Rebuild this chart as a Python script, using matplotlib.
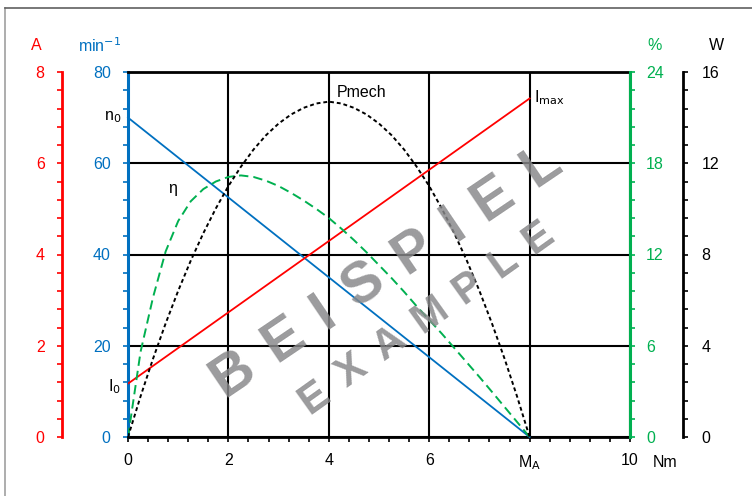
import math
import matplotlib
matplotlib.use("Agg")
import matplotlib.pyplot as plt
from matplotlib.lines import Line2D
from matplotlib.ticker import MultipleLocator, FixedLocator, FixedFormatter
from matplotlib.textpath import TextPath
from matplotlib.font_manager import FontProperties

plt.rcParams['font.family'] = ['Liberation Sans', 'DejaVu Sans']

# ---- data ----
torque = [0, 0.25, 0.5, 0.75, 1.0, 1.25, 1.5, 1.75, 2.0, 2.25, 2.5, 2.75, 3.0, 3.25,
          3.5, 3.75, 4.0, 4.25, 4.5, 4.75, 5.0, 5.25, 5.5, 5.75, 6.0, 6.25, 6.5, 6.75,
          7.0, 7.25, 7.5, 7.75, 8.0]
# mechanical power (W)
pmech = [0, 1.78, 3.44, 4.98, 6.41, 7.73, 8.93, 10.02, 11.0, 11.85, 12.6, 13.23, 13.74,
         14.14, 14.43, 14.62, 14.7, 14.62, 14.43, 14.14, 13.74, 13.23, 12.6, 11.85, 11.0,
         10.02, 8.93, 7.73, 6.41, 4.98, 3.44, 1.78, 0]
# efficiency (%)
eta = [0, 5.6, 9.2, 12.2, 14.2, 15.5, 16.3, 16.8, 17.1, 17.2, 17.1, 16.85, 16.5, 16.05,
       15.55, 15.0, 14.4, 13.7, 12.95, 12.15, 11.3, 10.45, 9.55, 8.6, 7.7, 6.8, 5.85, 4.9,
       3.95, 2.97, 1.98, 0.99, 0]
# speed (min^-1) and current (A), straight lines
speed_torque = [0, 8]
speed = [70, 0]
current_torque = [0, 8]
current = [1.17, 7.42]

x_ticks = [0, 2, 4, 6, 8, 10]
x_labels = ['0', '2', '4', '6', r'M$_\mathrm{A}$', '10']

BLUE = '#0070C0'
RED = '#FF0000'
GREEN = '#00B050'
BLACK = '#000000'

W, H = 752, 496
fig = plt.figure(figsize=(W / 100, H / 100), dpi=100)
L, R, B, T = 128, 630, 437, 72
ax = fig.add_axes([L / W, 1 - B / H, (R - L) / W, (B - T) / H])

ax.set_xlim(0, 10)
ax.set_ylim(0, 80)
tick_kw = dict(direction='out', length=3.5, width=1.2, labelsize=11.5)

# main axis: speed (blue, left)
ax.xaxis.set_major_locator(FixedLocator(x_ticks))
ax.xaxis.set_major_formatter(FixedFormatter(x_labels))
ax.xaxis.set_minor_locator(MultipleLocator(0.4))
ax.tick_params(axis='x', which='both', colors=BLACK, pad=8, **tick_kw)
ax.yaxis.set_major_locator(MultipleLocator(20))
ax.yaxis.set_minor_locator(MultipleLocator(4))
ax.tick_params(axis='y', which='both', colors=BLUE, labelcolor=BLUE, pad=9, **tick_kw)
for s in ['top', 'bottom']:
    ax.spines[s].set_color(BLACK)
    ax.spines[s].set_linewidth(2)
ax.spines['left'].set_color(BLUE)
ax.spines['left'].set_linewidth(2.2)
ax.spines['right'].set_visible(False)
ax.grid(True, which='major', color=BLACK, linewidth=1.5)
ax.set_axisbelow(True)

# current axis (red, far left)
axI = ax.twinx()
axI.set_ylim(0, 8)
axI.yaxis.set_label_position('left')
axI.yaxis.tick_left()
axI.spines['left'].set_position(('axes', -66 / 502))
axI.spines['left'].set_visible(True)
axI.spines['left'].set_color(RED)
axI.spines['left'].set_linewidth(2)
for s in ['right', 'top', 'bottom']:
    axI.spines[s].set_visible(False)
axI.yaxis.set_major_locator(MultipleLocator(2))
axI.yaxis.set_minor_locator(MultipleLocator(0.4))
axI.tick_params(axis='y', which='both', colors=RED, labelcolor=RED, pad=9, **tick_kw)

# efficiency axis (green, right)
axE = ax.twinx()
axE.set_ylim(0, 24)
for s in ['left', 'top', 'bottom']:
    axE.spines[s].set_visible(False)
axE.spines['right'].set_color(GREEN)
axE.spines['right'].set_linewidth(2.2)
axE.yaxis.set_major_locator(MultipleLocator(6))
axE.yaxis.set_minor_locator(MultipleLocator(1.2))
axE.tick_params(axis='y', which='both', colors=GREEN, labelcolor=GREEN, pad=8, **tick_kw)

# power axis (black, far right)
axP = ax.twinx()
axP.set_ylim(0, 16)
axP.spines['right'].set_position(('axes', (683 - 128) / 502))
for s in ['left', 'top', 'bottom']:
    axP.spines[s].set_visible(False)
axP.spines['right'].set_color(BLACK)
axP.spines['right'].set_linewidth(2)
axP.yaxis.set_major_locator(MultipleLocator(4))
axP.yaxis.set_minor_locator(MultipleLocator(0.8))
axP.tick_params(axis='y', which='both', colors=BLACK, labelcolor=BLACK, pad=10, **tick_kw)

# curves
ax.plot(speed_torque, speed, color=BLUE, lw=1.3, zorder=5, clip_on=False)
axI.plot(current_torque, current, color=RED, lw=1.3, zorder=5)
axE.plot(torque, eta, color=GREEN, lw=1.4, dashes=(4.8, 2.6), zorder=5)
axP.plot(torque, pmech, color=BLACK, lw=1.4, dashes=(2.0, 1.5), zorder=5)
axP.set_xlim(0, 10)

# annotations (in main-axis data coords)
ax.text(-0.14, 70, r'n$_0$', ha='right', va='center', fontsize=11.5, color=BLACK)
ax.text(-0.14, 11, r'I$_0$', ha='right', va='center', fontsize=11.5, color=BLACK)
ax.text(0.88, 54.5, 'η', ha='center', va='center', fontsize=11.5, color=BLACK)
ax.text(4.66, 75.6, 'Pmech', ha='center', va='center', fontsize=11.5, color=BLACK)
ax.text(8.08, 74.3, r'I$_\mathrm{max}$', ha='left', va='center', fontsize=11.5, color=BLACK)
ax.text(10.45, -5.6, 'Nm', ha='left', va='center', fontsize=11.5, color=BLACK, clip_on=False)

# axis titles (figure pixel coords)
def ftxt(x, y, s, c):
    fig.text(x / W, 1 - y / H, s, ha='center', va='center', fontsize=11.5, color=c)
ftxt(36, 45, 'A', RED)
ftxt(100, 46, r'min$^{\mathrm{-1}}$', BLUE)
ftxt(655, 46, '%', GREEN)
ftxt(716, 45, 'W', BLACK)

# watermark: letters placed individually along a rotated baseline
def spaced_text(word, x0, y0, x1, y1, size):
    fp = FontProperties(family='Liberation Sans', weight='bold')
    widths = [TextPath((0, 0), ch, size=size, prop=fp).get_extents().width * 100 / 72
              for ch in word]
    total = math.hypot(x1 - x0, y1 - y0)
    inner = sum(widths) - widths[0] / 2 - widths[-1] / 2
    gap = (total - inner) / (len(word) - 1)
    ang = math.degrees(math.atan2(y0 - y1, x1 - x0))
    ux, uy = (x1 - x0) / total, (y1 - y0) / total
    pos = 0.0
    for i, ch in enumerate(word):
        if i > 0:
            pos += widths[i - 1] / 2 + gap + widths[i] / 2
        px, py = x0 + ux * pos, y0 + uy * pos
        fig.text(px / W, 1 - py / H, ch, ha='center', va='center', fontsize=size,
                 fontweight='bold', color='#88888a', alpha=0.84, rotation=ang,
                 rotation_mode='anchor', zorder=20, family='Liberation Sans')

spaced_text('BEISPIEL', 233, 374, 541, 166, 41)
spaced_text('EXAMPLE', 314, 398, 538, 238, 30)

# outer frame (left and top)
fig.add_artist(Line2D([5 / W, 5 / W], [0, 1 - 8 / H], color='#a0a0a0', lw=1.2))
fig.add_artist(Line2D([5 / W, 1], [1 - 8 / H, 1 - 8 / H], color='#606060', lw=1.2))

fig.savefig('out.png', dpi=100)
